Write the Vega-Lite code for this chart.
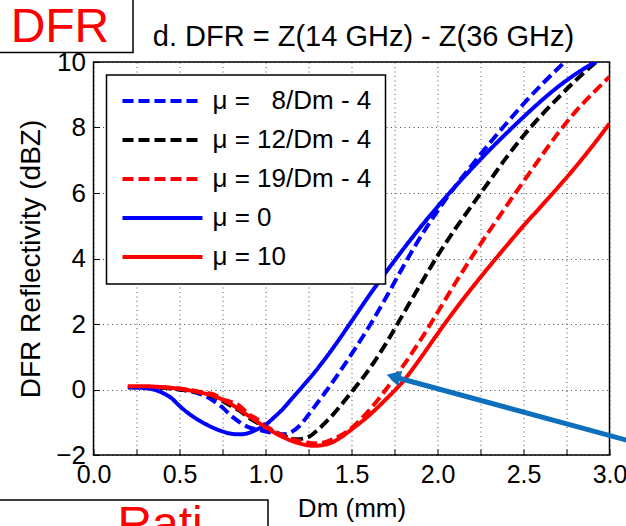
{
  "$schema": "https://vega.github.io/schema/vega-lite/v6.json",
  "width": 516,
  "height": 393,
  "autosize": {"type": "none"},
  "padding": {"left": 93.5, "top": 62, "right": 16.5, "bottom": 71},
  "background": "white",
  "config": {
    "font": "Liberation Sans",
    "view": {"stroke": "black", "strokeWidth": 1.5},
    "legend": {
      "orient": "top-left",
      "offset": 13,
      "fillColor": "white",
      "strokeColor": "black",
      "strokeWidth": 1.5,
      "padding": 14,
      "symbolType": "stroke",
      "symbolSize": 6400,
      "symbolStrokeWidth": 4,
      "clipHeight": 24,
      "labelFontSize": 26,
      "labelFont": "Liberation Sans",
      "labelColor": "black",
      "labelOffset": 8,
      "rowPadding": 13,
      "labelLimit": 400
    }
  },
  "title": {
    "text": "d. DFR = Z(14 GHz) - Z(36 GHz)",
    "fontSize": 29,
    "fontWeight": "normal",
    "color": "black",
    "font": "Liberation Sans",
    "frame": "group",
    "dx": 12,
    "offset": -56
  },
  "datasets": {
    "curves": [
      {"s":"a","x":0.2,"y":0.07},{"s":"a","x":0.3,"y":0.07},{"s":"a","x":0.4,"y":0.05},{"s":"a","x":0.5,"y":0.0},{"s":"a","x":0.6,"y":-0.1},{"s":"a","x":0.65,"y":-0.2},{"s":"a","x":0.7,"y":-0.35},{"s":"a","x":0.75,"y":-0.55},{"s":"a","x":0.8,"y":-0.8},{"s":"a","x":0.85,"y":-1.0},{"s":"a","x":0.9,"y":-1.15},{"s":"a","x":0.95,"y":-1.22},{"s":"a","x":1.0,"y":-1.28},{"s":"a","x":1.05,"y":-1.33},{"s":"a","x":1.1,"y":-1.37},{"s":"a","x":1.15,"y":-1.3},{"s":"a","x":1.2,"y":-1.1},{"s":"a","x":1.25,"y":-0.77},{"s":"a","x":1.3,"y":-0.42},{"s":"a","x":1.35,"y":-0.07},{"s":"a","x":1.4,"y":0.3},{"s":"a","x":1.5,"y":1.08},{"s":"a","x":1.6,"y":1.9},{"s":"a","x":1.7,"y":2.8},{"s":"a","x":1.8,"y":3.75},{"s":"a","x":1.9,"y":4.65},{"s":"a","x":2.0,"y":5.45},{"s":"a","x":2.1,"y":6.18},{"s":"a","x":2.2,"y":6.85},{"s":"a","x":2.3,"y":7.5},{"s":"a","x":2.4,"y":8.12},{"s":"a","x":2.5,"y":8.72},{"s":"a","x":2.6,"y":9.28},{"s":"a","x":2.7,"y":9.8},{"s":"a","x":2.8,"y":10.3},
      {"s":"b","x":0.2,"y":0.07},{"s":"b","x":0.3,"y":0.07},{"s":"b","x":0.4,"y":0.05},{"s":"b","x":0.5,"y":0.0},{"s":"b","x":0.6,"y":-0.08},{"s":"b","x":0.7,"y":-0.22},{"s":"b","x":0.75,"y":-0.35},{"s":"b","x":0.8,"y":-0.5},{"s":"b","x":0.85,"y":-0.65},{"s":"b","x":0.9,"y":-0.85},{"s":"b","x":1.0,"y":-1.15},{"s":"b","x":1.1,"y":-1.4},{"s":"b","x":1.18,"y":-1.52},{"s":"b","x":1.25,"y":-1.45},{"s":"b","x":1.3,"y":-1.25},{"s":"b","x":1.4,"y":-0.72},{"s":"b","x":1.5,"y":-0.08},{"s":"b","x":1.6,"y":0.6},{"s":"b","x":1.7,"y":1.4},{"s":"b","x":1.8,"y":2.3},{"s":"b","x":1.9,"y":3.2},{"s":"b","x":2.0,"y":4.08},{"s":"b","x":2.1,"y":4.88},{"s":"b","x":2.2,"y":5.62},{"s":"b","x":2.3,"y":6.35},{"s":"b","x":2.4,"y":7.08},{"s":"b","x":2.5,"y":7.75},{"s":"b","x":2.6,"y":8.35},{"s":"b","x":2.7,"y":8.9},{"s":"b","x":2.8,"y":9.42},{"s":"b","x":2.9,"y":9.9},{"s":"b","x":2.95,"y":10.12},
      {"s":"c","x":0.2,"y":0.08},{"s":"c","x":0.3,"y":0.08},{"s":"c","x":0.4,"y":0.07},{"s":"c","x":0.5,"y":0.03},{"s":"c","x":0.6,"y":-0.05},{"s":"c","x":0.65,"y":-0.1},{"s":"c","x":0.7,"y":-0.15},{"s":"c","x":0.75,"y":-0.3},{"s":"c","x":0.8,"y":-0.38},{"s":"c","x":0.85,"y":-0.5},{"s":"c","x":0.9,"y":-0.75},{"s":"c","x":0.95,"y":-0.9},{"s":"c","x":1.0,"y":-1.1},{"s":"c","x":1.1,"y":-1.4},{"s":"c","x":1.2,"y":-1.58},{"s":"c","x":1.3,"y":-1.65},{"s":"c","x":1.4,"y":-1.5},{"s":"c","x":1.5,"y":-1.18},{"s":"c","x":1.6,"y":-0.65},{"s":"c","x":1.7,"y":0.0},{"s":"c","x":1.8,"y":0.72},{"s":"c","x":1.9,"y":1.5},{"s":"c","x":2.0,"y":2.35},{"s":"c","x":2.1,"y":3.22},{"s":"c","x":2.2,"y":4.05},{"s":"c","x":2.3,"y":4.83},{"s":"c","x":2.4,"y":5.6},{"s":"c","x":2.5,"y":6.35},{"s":"c","x":2.6,"y":7.1},{"s":"c","x":2.7,"y":7.82},{"s":"c","x":2.8,"y":8.47},{"s":"c","x":2.9,"y":9.03},{"s":"c","x":3.0,"y":9.55},
      {"s":"d","x":0.2,"y":0.07},{"s":"d","x":0.3,"y":0.04},{"s":"d","x":0.35,"y":0.0},{"s":"d","x":0.4,"y":-0.1},{"s":"d","x":0.45,"y":-0.25},{"s":"d","x":0.5,"y":-0.5},{"s":"d","x":0.55,"y":-0.72},{"s":"d","x":0.6,"y":-0.9},{"s":"d","x":0.65,"y":-1.05},{"s":"d","x":0.7,"y":-1.18},{"s":"d","x":0.75,"y":-1.28},{"s":"d","x":0.8,"y":-1.35},{"s":"d","x":0.85,"y":-1.37},{"s":"d","x":0.9,"y":-1.33},{"s":"d","x":0.95,"y":-1.22},{"s":"d","x":1.0,"y":-1.08},{"s":"d","x":1.05,"y":-0.85},{"s":"d","x":1.1,"y":-0.6},{"s":"d","x":1.15,"y":-0.3},{"s":"d","x":1.2,"y":0.0},{"s":"d","x":1.3,"y":0.62},{"s":"d","x":1.4,"y":1.32},{"s":"d","x":1.5,"y":2.08},{"s":"d","x":1.6,"y":2.85},{"s":"d","x":1.7,"y":3.58},{"s":"d","x":1.8,"y":4.28},{"s":"d","x":1.9,"y":4.95},{"s":"d","x":2.0,"y":5.58},{"s":"d","x":2.1,"y":6.18},{"s":"d","x":2.2,"y":6.75},{"s":"d","x":2.3,"y":7.3},{"s":"d","x":2.4,"y":7.82},{"s":"d","x":2.5,"y":8.32},{"s":"d","x":2.6,"y":8.8},{"s":"d","x":2.7,"y":9.24},{"s":"d","x":2.8,"y":9.62},{"s":"d","x":2.9,"y":9.95},{"s":"d","x":2.95,"y":10.1},
      {"s":"e","x":0.2,"y":0.1},{"s":"e","x":0.3,"y":0.1},{"s":"e","x":0.4,"y":0.07},{"s":"e","x":0.5,"y":0.02},{"s":"e","x":0.6,"y":-0.07},{"s":"e","x":0.7,"y":-0.2},{"s":"e","x":0.8,"y":-0.45},{"s":"e","x":0.9,"y":-0.8},{"s":"e","x":1.0,"y":-1.15},{"s":"e","x":1.1,"y":-1.45},{"s":"e","x":1.2,"y":-1.65},{"s":"e","x":1.28,"y":-1.72},{"s":"e","x":1.35,"y":-1.68},{"s":"e","x":1.45,"y":-1.42},{"s":"e","x":1.5,"y":-1.22},{"s":"e","x":1.6,"y":-0.8},{"s":"e","x":1.7,"y":-0.3},{"s":"e","x":1.8,"y":0.25},{"s":"e","x":1.9,"y":0.95},{"s":"e","x":2.0,"y":1.7},{"s":"e","x":2.1,"y":2.42},{"s":"e","x":2.2,"y":3.1},{"s":"e","x":2.3,"y":3.75},{"s":"e","x":2.4,"y":4.38},{"s":"e","x":2.5,"y":5.0},{"s":"e","x":2.6,"y":5.58},{"s":"e","x":2.7,"y":6.17},{"s":"e","x":2.8,"y":6.78},{"s":"e","x":2.9,"y":7.43},{"s":"e","x":3.0,"y":8.12}
    ],
    "boxes": [
      {"x": -0.56, "x2": 0.2297, "y": 12.0, "y2": 10.29},
      {"x": -0.56, "x2": 1.0145, "y": -3.374, "y2": -4.4}
    ],
    "labels": [
      {"x": -0.195, "y": 10.61, "t": "DFR"},
      {"x": 0.387, "y": -4.6, "t": "Rati"}
    ],
    "arrow": [
      {"x": 3.13, "y": -1.59, "x2": 1.745, "y2": 0.39}
    ],
    "head": [
      {"x": 1.7436, "y": 0.39}
    ]
  },
  "layer": [
    {
      "data": {"name": "curves"},
      "mark": {"type": "line", "strokeWidth": 4, "clip": true, "interpolate": "monotone", "strokeCap": "butt"},
      "encoding": {
        "x": {
          "field": "x", "type": "quantitative",
          "scale": {"domain": [0, 3], "nice": false, "zero": false},
          "axis": {
            "title": "Dm (mm)",
            "values": [0, 0.25, 0.5, 0.75, 1, 1.25, 1.5, 1.75, 2, 2.25, 2.5, 2.75, 3],
            "labelExpr": "datum.value % 0.5 === 0 ? format(datum.value, '.1f') : ''",
            "grid": true, "gridDash": [1, 3.5], "gridColor": "black", "gridOpacity": 0.7, "gridWidth": 1,
            "domain": false,
            "tickSize": -6, "tickColor": "black", "tickWidth": 1,
            "labelFontSize": 25, "labelColor": "black", "labelPadding": 13, "labelFlush": false,
            "titleFontSize": 26, "titleFontWeight": "normal", "titleColor": "black", "titlePadding": 8
          }
        },
        "y": {
          "field": "y", "type": "quantitative",
          "scale": {"domain": [-2, 10], "nice": false, "zero": false},
          "axis": {
            "title": "DFR Reflectivity (dBZ)",
            "values": [-2, -1, 0, 1, 2, 3, 4, 5, 6, 7, 8, 9, 10],
            "labelExpr": "datum.value % 2 === 0 ? datum.label : ''",
            "grid": true, "gridDash": [1, 3.5], "gridColor": "black", "gridOpacity": 0.7, "gridWidth": 1,
            "domain": false,
            "tickSize": -6, "tickColor": "black", "tickWidth": 1,
            "labelFontSize": 26, "labelColor": "black", "labelPadding": 14, "labelFlush": false,
            "titleFontSize": 28, "titleFontWeight": "normal", "titleColor": "black", "titlePadding": 10
          }
        },
        "color": {
          "field": "s", "type": "nominal",
          "scale": {"domain": ["a", "b", "c", "d", "e"], "range": ["#0000ff", "#000000", "#ff0000", "#0000ff", "#ff0000"]},
          "legend": {"title": null, "labelExpr": "{'a': 'μ = \u20078/Dm - 4', 'b': 'μ = 12/Dm - 4', 'c': 'μ = 19/Dm - 4', 'd': 'μ = 0', 'e': 'μ = 10'}[datum.label]"}
        },
        "strokeDash": {
          "field": "s", "type": "nominal",
          "scale": {"domain": ["a", "b", "c", "d", "e"], "range": [[11, 5], [11, 5], [11, 5], [1, 0], [1, 0]]},
          "legend": {"title": null, "labelExpr": "{'a': 'μ = \u20078/Dm - 4', 'b': 'μ = 12/Dm - 4', 'c': 'μ = 19/Dm - 4', 'd': 'μ = 0', 'e': 'μ = 10'}[datum.label]"}
        }
      }
    },
    {
      "data": {"name": "boxes"},
      "mark": {"type": "rect", "fill": "white", "stroke": "black", "strokeWidth": 1.5, "clip": false},
      "encoding": {
        "x": {"field": "x", "type": "quantitative", "title": "Dm (mm)"},
        "x2": {"field": "x2"},
        "y": {"field": "y", "type": "quantitative", "title": "DFR Reflectivity (dBZ)"},
        "y2": {"field": "y2"}
      }
    },
    {
      "data": {"name": "labels"},
      "mark": {"type": "text", "color": "#ff0000", "fontSize": 48, "align": "center", "baseline": "alphabetic", "clip": false, "font": "Liberation Sans"},
      "encoding": {
        "x": {"field": "x", "type": "quantitative", "title": "Dm (mm)"},
        "y": {"field": "y", "type": "quantitative", "title": "DFR Reflectivity (dBZ)"},
        "text": {"field": "t"}
      }
    },
    {
      "data": {"name": "arrow"},
      "mark": {"type": "rule", "color": "#0e6fbc", "strokeWidth": 5, "clip": false},
      "encoding": {
        "x": {"field": "x", "type": "quantitative", "title": "Dm (mm)"},
        "x2": {"field": "x2"},
        "y": {"field": "y", "type": "quantitative", "title": "DFR Reflectivity (dBZ)"},
        "y2": {"field": "y2"}
      }
    },
    {
      "data": {"name": "head"},
      "mark": {"type": "point", "shape": "triangle-up", "filled": true, "color": "#0e6fbc", "opacity": 1, "size": 260, "angle": 285.5, "clip": false},
      "encoding": {
        "x": {"field": "x", "type": "quantitative", "title": "Dm (mm)"},
        "y": {"field": "y", "type": "quantitative", "title": "DFR Reflectivity (dBZ)"}
      }
    }
  ]
}
